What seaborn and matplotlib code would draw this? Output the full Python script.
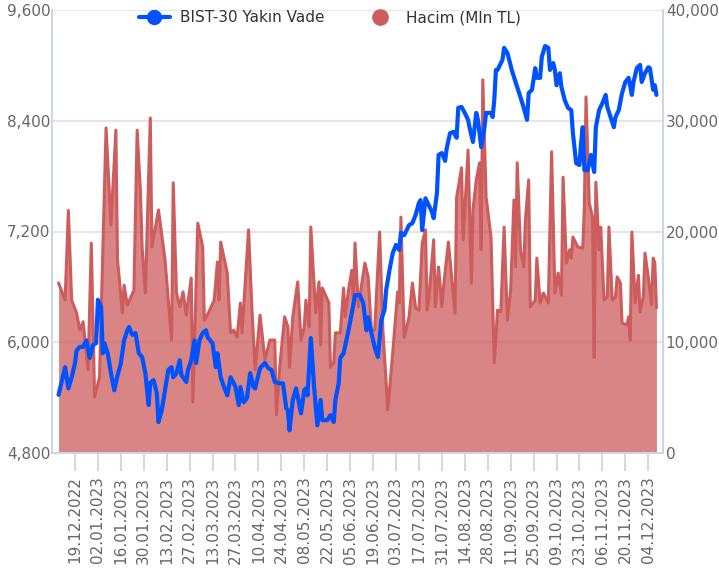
import pandas as pd
import seaborn as sns
import matplotlib.pyplot as plt
import matplotlib.dates as mdates
from matplotlib.lines import Line2D
from matplotlib.ticker import FuncFormatter

# BIST-30 yakin vade (sol eksen)
price_dates = [
    "09.12.2022", "13.12.2022", "15.12.2022", "17.12.2022", "19.12.2022", "20.12.2022", "22.12.2022",
    "24.12.2022", "26.12.2022", "28.12.2022", "30.12.2022",
    "01.01.2023", "02.01.2023", "04.01.2023", "05.01.2023", "06.01.2023", "08.01.2023", "10.01.2023",
    "12.01.2023", "14.01.2023", "16.01.2023", "18.01.2023", "20.01.2023", "21.01.2023", "23.01.2023",
    "25.01.2023", "27.01.2023", "29.01.2023", "31.01.2023",
    "02.02.2023", "03.02.2023", "05.02.2023", "07.02.2023", "08.02.2023", "10.02.2023", "12.02.2023",
    "14.02.2023", "16.02.2023", "17.02.2023", "19.02.2023", "21.02.2023", "22.02.2023", "25.02.2023",
    "26.02.2023", "28.02.2023",
    "02.03.2023", "03.03.2023", "05.03.2023", "07.03.2023", "09.03.2023", "10.03.2023", "13.03.2023",
    "15.03.2023", "16.03.2023", "18.03.2023", "20.03.2023", "22.03.2023", "24.03.2023", "26.03.2023",
    "27.03.2023", "29.03.2023", "30.03.2023",
    "01.04.2023", "03.04.2023", "05.04.2023", "07.04.2023", "08.04.2023", "11.04.2023", "14.04.2023",
    "16.04.2023", "18.04.2023", "20.04.2023", "23.04.2023", "25.04.2023", "27.04.2023", "28.04.2023",
    "29.04.2023",
    "01.05.2023", "03.05.2023", "06.05.2023", "08.05.2023", "09.05.2023", "10.05.2023", "12.05.2023",
    "14.05.2023", "16.05.2023", "18.05.2023", "19.05.2023", "22.05.2023", "24.05.2023", "26.05.2023",
    "27.05.2023", "29.05.2023", "30.05.2023",
    "01.06.2023", "04.06.2023", "06.06.2023", "08.06.2023", "11.06.2023", "13.06.2023", "15.06.2023",
    "16.06.2023", "18.06.2023", "20.06.2023", "22.06.2023", "24.06.2023", "26.06.2023", "27.06.2023",
    "29.06.2023",
    "01.07.2023", "03.07.2023", "05.07.2023", "06.07.2023", "08.07.2023", "11.07.2023", "13.07.2023",
    "15.07.2023", "17.07.2023", "18.07.2023", "19.07.2023", "21.07.2023", "23.07.2023", "25.07.2023",
    "26.07.2023", "28.07.2023", "29.07.2023", "31.07.2023",
    "02.08.2023", "03.08.2023", "05.08.2023", "07.08.2023", "09.08.2023", "10.08.2023", "12.08.2023",
    "14.08.2023", "16.08.2023", "17.08.2023", "19.08.2023", "21.08.2023", "22.08.2023", "24.08.2023",
    "26.08.2023", "27.08.2023", "30.08.2023", "31.08.2023",
    "01.09.2023", "02.09.2023", "03.09.2023", "06.09.2023", "07.09.2023", "09.09.2023", "12.09.2023",
    "13.09.2023", "15.09.2023", "17.09.2023", "19.09.2023", "21.09.2023", "22.09.2023", "24.09.2023",
    "26.09.2023", "27.09.2023", "29.09.2023", "30.09.2023",
    "02.10.2023", "04.10.2023", "05.10.2023", "07.10.2023", "08.10.2023", "09.10.2023", "11.10.2023",
    "12.10.2023", "14.10.2023", "16.10.2023", "18.10.2023", "19.10.2023", "21.10.2023", "23.10.2023",
    "24.10.2023", "25.10.2023", "26.10.2023", "28.10.2023", "29.10.2023", "30.10.2023",
    "01.11.2023", "02.11.2023", "04.11.2023", "06.11.2023", "08.11.2023", "09.11.2023", "11.11.2023",
    "13.11.2023", "14.11.2023", "16.11.2023", "18.11.2023", "20.11.2023", "22.11.2023", "24.11.2023",
    "25.11.2023", "27.11.2023", "29.11.2023", "30.11.2023",
    "02.12.2023", "04.12.2023", "05.12.2023", "07.12.2023", "08.12.2023", "09.12.2023",
]
price_values = [
    5430, 5730, 5500, 5620, 5770, 5910, 5950, 5950, 6020, 5830, 5970,
    5990, 6460, 6380, 5880, 5990, 5880, 5665, 5480, 5640, 5770, 6020, 6130, 6165, 6080, 6100, 5880, 5840, 5665,
    5320, 5560, 5590, 5450, 5135, 5265, 5480, 5700, 5730, 5620, 5665, 5805, 5645, 5570, 5700, 5805,
    6020, 5775, 6020, 6100, 6130, 6055, 5990, 5730, 5880, 5620, 5515, 5425, 5620, 5555, 5515, 5320, 5515,
    5350, 5395, 5665, 5515, 5500, 5720, 5775, 5720, 5700, 5570, 5555, 5555, 5285, 5265, 5045,
    5375, 5500, 5230, 5480, 5500, 5425, 6045, 5515, 5100, 5375, 5155, 5155, 5210, 5135, 5375, 5555, 5830,
    5880, 6130, 6315, 6510, 6510, 6425, 6130, 6270, 6100, 5945, 5840, 6240, 6350, 6565, 6780,
    6965, 7055, 7000, 7185, 7160, 7270, 7290, 7380, 7510, 7540, 7215, 7560, 7485, 7410, 7345, 7615, 8030, 8050,
    7965, 8105, 8265, 8280, 8215, 8540, 8550, 8485, 8410, 8320, 8170, 8485, 8410, 8115, 8330, 8485, 8485, 8440,
    8625, 8950, 8950, 9060, 9190, 9135, 8930, 8875, 8765, 8655, 8540, 8410, 8700, 8735, 8970, 8865, 8865, 9090,
    9210, 9190, 8950, 9025, 8950, 8785, 8915, 8765, 8625, 8540, 8515, 8265, 7940, 7920, 8160, 8330, 7865, 7865,
    7940, 8030,
    7845, 8330, 8515, 8590, 8680, 8550, 8440, 8330, 8440, 8515, 8700, 8820, 8865, 8680, 8820, 8970, 9005, 8820,
    8915, 8980, 8970, 8735, 8785, 8680,
]

# Hacim, milyon TL (sag eksen)
volume_dates = [
    "09.12.2022", "13.12.2022", "15.12.2022", "17.12.2022", "20.12.2022", "22.12.2022", "24.12.2022",
    "27.12.2022", "29.12.2022", "31.12.2022",
    "03.01.2023", "07.01.2023", "10.01.2023", "13.01.2023", "14.01.2023", "17.01.2023", "18.01.2023",
    "20.01.2023", "24.01.2023", "26.01.2023", "28.01.2023", "29.01.2023", "31.01.2023",
    "03.02.2023", "04.02.2023", "08.02.2023", "12.02.2023", "16.02.2023", "17.02.2023", "19.02.2023",
    "21.02.2023", "23.02.2023", "25.02.2023", "28.02.2023",
    "01.03.2023", "04.03.2023", "07.03.2023", "08.03.2023", "10.03.2023", "14.03.2023", "16.03.2023",
    "17.03.2023", "18.03.2023", "22.03.2023", "24.03.2023", "26.03.2023", "28.03.2023", "30.03.2023",
    "31.03.2023",
    "04.04.2023", "06.04.2023", "08.04.2023", "11.04.2023", "14.04.2023", "17.04.2023", "20.04.2023",
    "21.04.2023", "23.04.2023", "26.04.2023", "28.04.2023", "29.04.2023",
    "01.05.2023", "04.05.2023", "06.05.2023", "08.05.2023", "09.05.2023", "11.05.2023", "12.05.2023",
    "15.05.2023", "17.05.2023", "18.05.2023", "19.05.2023", "21.05.2023", "23.05.2023", "24.05.2023",
    "26.05.2023", "27.05.2023", "30.05.2023",
    "01.06.2023", "02.06.2023", "04.06.2023", "06.06.2023", "07.06.2023", "08.06.2023", "10.06.2023",
    "14.06.2023", "16.06.2023", "18.06.2023", "20.06.2023", "23.06.2023", "25.06.2023", "28.06.2023",
    "01.07.2023", "04.07.2023", "05.07.2023", "06.07.2023", "08.07.2023", "11.07.2023", "13.07.2023",
    "15.07.2023", "17.07.2023", "19.07.2023", "21.07.2023", "22.07.2023", "23.07.2023", "26.07.2023",
    "27.07.2023", "29.07.2023", "31.07.2023",
    "01.08.2023", "04.08.2023", "06.08.2023", "08.08.2023", "09.08.2023", "12.08.2023", "13.08.2023",
    "16.08.2023", "18.08.2023", "19.08.2023", "21.08.2023", "23.08.2023", "24.08.2023", "25.08.2023",
    "27.08.2023", "30.08.2023",
    "01.09.2023", "03.09.2023", "05.09.2023", "07.09.2023", "09.09.2023", "11.09.2023", "13.09.2023",
    "14.09.2023", "15.09.2023", "17.09.2023", "19.09.2023", "20.09.2023", "22.09.2023", "23.09.2023",
    "26.09.2023", "27.09.2023", "29.09.2023",
    "01.10.2023", "04.10.2023", "06.10.2023", "08.10.2023", "10.10.2023", "12.10.2023", "13.10.2023",
    "15.10.2023", "17.10.2023", "18.10.2023", "19.10.2023", "22.10.2023", "25.10.2023", "26.10.2023",
    "27.10.2023", "29.10.2023", "31.10.2023",
    "01.11.2023", "02.11.2023", "04.11.2023", "05.11.2023", "07.11.2023", "09.11.2023", "10.11.2023",
    "12.11.2023", "14.11.2023", "15.11.2023", "17.11.2023", "18.11.2023", "21.11.2023", "22.11.2023",
    "23.11.2023", "24.11.2023", "26.11.2023", "28.11.2023", "29.11.2023",
    "01.12.2023", "02.12.2023", "04.12.2023", "06.12.2023", "07.12.2023", "08.12.2023", "09.12.2023",
]
volume_values = [
    15350, 13800, 21900, 13800, 12650, 11100, 11850, 7500, 18950, 5050,
    6850, 29350, 20600, 29150, 17450, 12650, 15150, 13350, 14700, 29150, 23550, 18600, 14450,
    30250, 18600, 21950, 17450, 10200, 24400, 14450, 13200, 14550, 12450, 15800,
    4600, 20750, 18600, 12000, 12500, 13800, 17250, 13800, 19050, 16250, 10850, 11100, 10450, 13550, 10850,
    20150, 13200, 7500, 12450, 8400, 10200, 10200, 3450, 7750, 12300, 11400, 7750,
    12300, 15450, 10200, 11400, 13800, 11400, 20400, 12650, 15450, 9750, 14900, 14250, 13550, 7750, 8150,
    10850, 10850,
    14900, 12300, 14700, 16500, 13650, 18950, 13200, 17150, 15900, 11100, 11100, 19950, 11100, 3900,
    9050, 14550, 13550, 21300, 10450, 12300, 15350, 13100, 12900, 18950, 20150, 12900, 13800, 19250, 13200,
    16800, 13200,
    15000, 19050, 15900, 12650, 23050, 25750, 19250, 27350, 15350, 21950, 24650, 26200, 18350, 33700, 23100,
    19500,
    8150, 12900, 12750, 20400, 12000, 14700, 22850, 16800, 26200, 18350, 16800, 21050, 24650, 13200, 13800,
    17600, 13550,
    14450, 13550, 27200, 14450, 16250, 14250, 24900, 17150, 18350, 17600, 19500, 18600, 18500, 22200, 32150,
    22550, 21300,
    8600, 24450, 18350, 20400, 13800, 14100, 20400, 13800, 14100, 15900, 15350, 11750, 11550, 12300, 10200,
    19950, 13550, 16050, 12750,
    14100, 18050, 15900, 13350, 17600, 17150, 13100,
]

tick_dates = pd.date_range("2022-12-19", "2023-12-04", freq="14D")

price = pd.DataFrame({"tarih": pd.to_datetime(price_dates, format="%d.%m.%Y"), "fiyat": price_values})
volume = pd.DataFrame({"tarih": pd.to_datetime(volume_dates, format="%d.%m.%Y"), "hacim": volume_values})

blue = "#0052ff"
red = "#cd5c5c"
grey = "#666666"
axis_col = "#ccd6eb"

sns.set_theme(style="white")
plt.rcParams["font.family"] = ["DejaVu Sans"]

fig, ax = plt.subplots(figsize=(7.19, 5.74), dpi=100)
fig.subplots_adjust(left=52 / 719, right=663 / 719, top=1 - 10 / 574, bottom=1 - 453 / 574)
ax2 = ax.twinx()

# volume area on the right axis, price line drawn on top
ax2.fill_between(volume["tarih"], volume["hacim"], color=red, alpha=0.75, linewidth=0, zorder=1)
sns.lineplot(data=volume, x="tarih", y="hacim", ax=ax2, color=red, linewidth=2.2, zorder=2)
sns.lineplot(data=price, x="tarih", y="fiyat", ax=ax, color=blue, linewidth=3)

ax.set_zorder(ax2.get_zorder() + 1)
ax.patch.set_visible(False)

ax.set_xlim(pd.Timestamp("2022-12-05"), pd.Timestamp("2023-12-13"))
ax.set_ylim(4800, 9600)
ax.set_yticks(range(4800, 9601, 1200))
ax2.set_ylim(0, 40000)
ax2.set_yticks(range(0, 40001, 10000))

fmt = FuncFormatter(lambda v, p: f"{v:,.0f}")
ax.yaxis.set_major_formatter(fmt)
ax2.yaxis.set_major_formatter(fmt)

ax.set_xticks(tick_dates)
ax.xaxis.set_major_formatter(mdates.DateFormatter("%d.%m.%Y"))

ax2.yaxis.grid(True, color="#e6e6e6", linewidth=1.6)
ax2.set_axisbelow(True)
ax.grid(False)

for a in (ax, ax2):
    a.set_xlabel("")
    a.set_ylabel("")
    a.spines["top"].set_visible(False)
    for s in ("left", "right", "bottom"):
        a.spines[s].set_color(axis_col)
        a.spines[s].set_linewidth(1.3)

ax.tick_params(axis="y", length=0, labelsize=11, labelcolor=grey, pad=1)
ax2.tick_params(axis="y", length=0, labelsize=11, labelcolor=grey, pad=2)
ax.tick_params(axis="x", bottom=True, length=13, width=1.3, color=axis_col, labelsize=11,
               labelcolor=grey, labelrotation=90, pad=4)

handles = [
    Line2D([0], [0], color=blue, lw=3, marker="o", markersize=10),
    Line2D([0], [0], color=red, lw=0, marker="o", markersize=11),
]
fig.legend(handles, ["BIST-30 Yakın Vade", "Hacim (Mln TL)"], loc="center",
           bbox_to_anchor=(330 / 719, 1 - 18 / 574), ncol=2, frameon=False, fontsize=11,
           handlelength=2.0, handletextpad=0.7, columnspacing=2.6, labelcolor="#333333")

fig.savefig("out.png", dpi=100)
